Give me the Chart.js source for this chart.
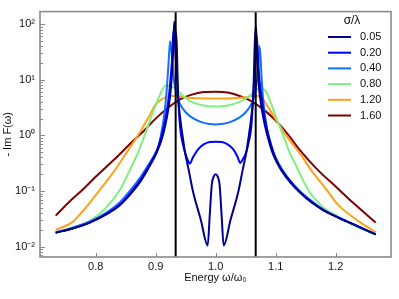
<!DOCTYPE html>
<html>
<head>
<meta charset="utf-8">
<script src="https://cdn.jsdelivr.net/npm/chart.js@4.4.1/dist/chart.umd.min.js"></script>
<style>
  html, body { margin: 0; padding: 0; background: #fff; }
  canvas { display: block; }
</style>
</head>
<body>
<canvas id="myChart" width="399" height="299"></canvas>
<script>
// values

// sigma / lambda of each curve
var sigmaLabels = ['0.05', '0.20', '0.40', '0.80', '1.20', '1.60'];

// bare resonance energies (the two black vertical lines)
var resonances = [0.9333, 1.0667];

var xTicks = [0.8, 0.9, 1.0, 1.1, 1.2];
var yMajorTicks = [0.01, 0.1, 1, 10, 100];

var energy005 = [0.7333, 0.76, 0.79, 0.82, 0.84, 0.857, 0.875, 0.89, 0.902, 0.912, 0.919, 0.924, 0.927, 0.929, 0.9308,
  0.9325, 0.935, 0.9372, 0.941, 0.945, 0.9488, 0.955, 0.962, 0.975, 0.9867, 0.99, 0.9935, 0.997, 1.0, 1.003, 1.0065, 1.01, 1.0133,
  1.025, 1.038, 1.045, 1.0512, 1.055, 1.059, 1.0628, 1.065, 1.0668, 1.068, 1.0695, 1.0715, 1.075, 1.08, 1.086, 1.093,
  1.10, 1.11, 1.125, 1.14, 1.16, 1.18, 1.20, 1.23, 1.2667];
var imF005 = [0.0178, 0.021, 0.027, 0.039, 0.055, 0.085, 0.15, 0.28, 0.5, 1.0, 2.2, 5, 12, 30, 110,
  80, 45, 6, 2.0, 0.95, 0.5, 0.24, 0.1, 0.031, 0.0105, 0.035, 0.13, 0.185, 0.2, 0.185, 0.13, 0.035, 0.0105,
  0.031, 0.1, 0.24, 0.5, 0.95, 2.0, 6, 40, 93, 60, 25, 9, 4, 1.9, 1.0, 0.55,
  0.36, 0.23, 0.14, 0.095, 0.062, 0.045, 0.035, 0.025, 0.0166];

var energy020 = [0.7333, 0.76, 0.79, 0.82, 0.84, 0.857, 0.875, 0.89, 0.901, 0.91, 0.917, 0.922, 0.925, 0.9275, 0.9295,
  0.931, 0.933, 0.935, 0.9372, 0.9405, 0.945, 0.95, 0.9545, 0.957, 0.962, 0.97, 0.98, 0.99, 1.0, 1.01, 1.02, 1.03, 1.036,
  1.041, 1.0445, 1.05, 1.055, 1.0595, 1.0628, 1.065, 1.067, 1.0685, 1.0705, 1.073, 1.077, 1.082, 1.088, 1.095,
  1.10, 1.11, 1.125, 1.14, 1.16, 1.18, 1.20, 1.23, 1.2667];
var imF020 = [0.0178, 0.021, 0.027, 0.04, 0.057, 0.09, 0.16, 0.3, 0.5, 1.0, 2.2, 5, 11, 25, 75,
  60, 30, 14, 5.6, 1.46, 0.72, 0.45, 0.34, 0.31, 0.4, 0.55, 0.69, 0.76, 0.77, 0.76, 0.69, 0.55, 0.42,
  0.32, 0.36, 0.47, 0.75, 1.46, 5.6, 14, 30, 60, 25, 10, 4.5, 2.0, 1.0, 0.55,
  0.38, 0.24, 0.145, 0.097, 0.063, 0.045, 0.035, 0.025, 0.0166];

var energy040 = [0.7333, 0.76, 0.79, 0.82, 0.84, 0.857, 0.875, 0.89, 0.898, 0.904, 0.91, 0.9155, 0.919, 0.922, 0.924,
  0.926, 0.929, 0.933, 0.937, 0.942, 0.95, 0.96, 0.975, 0.99, 1.0, 1.01, 1.025, 1.04, 1.05, 1.058, 1.063, 1.067,
  1.0705, 1.0725, 1.0745, 1.077, 1.08, 1.085, 1.092, 1.10, 1.11, 1.125, 1.14, 1.16, 1.18, 1.20, 1.23, 1.2667];
var imF040 = [0.018, 0.0215, 0.028, 0.042, 0.062, 0.1, 0.18, 0.32, 0.45, 0.6, 1.2, 3.0, 8, 25, 49,
  35, 14, 6.5, 4.5, 3.4, 2.6, 2.1, 1.75, 1.6, 1.57, 1.6, 1.75, 2.1, 2.6, 3.4, 4.5, 7,
  15, 41, 28, 9, 3.5, 1.4, 0.65, 0.4, 0.25, 0.15, 0.1, 0.066, 0.046, 0.035, 0.025, 0.0166];

var energy080 = [0.7333, 0.76, 0.79, 0.815, 0.8405, 0.857, 0.871, 0.885, 0.90, 0.91, 0.917, 0.925, 0.933, 0.945, 0.96,
  0.98, 1.0, 1.02, 1.04, 1.055, 1.0667, 1.074, 1.082, 1.09, 1.096, 1.105, 1.118, 1.1227, 1.13, 1.154, 1.18, 1.2017,
  1.23, 1.2667];
var imF080 = [0.0178, 0.022, 0.029, 0.047, 0.105, 0.24, 0.5, 1.27, 3.5, 6.3, 7.9, 7.6, 6.9, 5.2, 4.0,
  3.45, 3.3, 3.45, 4.0, 5.0, 6.3, 7.4, 6.5, 4.4, 2.9, 1.6, 0.7, 0.5, 0.35, 0.105, 0.05, 0.036,
  0.024, 0.0166];

var energy120 = [0.7333, 0.76, 0.78, 0.807, 0.83, 0.852, 0.874, 0.89, 0.90, 0.912, 0.924, 0.935, 0.95, 0.97, 1.0,
  1.03, 1.05, 1.065, 1.076, 1.09, 1.105, 1.12, 1.139, 1.16, 1.185, 1.2017, 1.23, 1.2667];
var imF120 = [0.020, 0.027, 0.045, 0.105, 0.22, 0.50, 1.15, 2.3, 3.6, 4.6, 5.1, 5.1, 4.8, 4.65, 4.6,
  4.65, 4.85, 5.2, 4.8, 2.9, 1.6, 0.9, 0.50, 0.23, 0.105, 0.06, 0.033, 0.018];

var energy160 = [0.7333, 0.76, 0.78, 0.80, 0.83, 0.86, 0.88, 0.90, 0.92, 0.94, 0.96, 0.98, 1.00,
  1.02, 1.04, 1.06, 1.08, 1.10, 1.12, 1.14, 1.17, 1.20, 1.23, 1.2667];
var imF160 = [0.036, 0.07, 0.11, 0.18, 0.36, 0.75, 1.2, 2.0, 3.1, 4.4, 5.4, 6.0, 6.1,
  5.9, 5.1, 4.1, 2.9, 1.85, 1.05, 0.55, 0.24, 0.12, 0.06, 0.027];

var energies = [energy005, energy020, energy040, energy080, energy120, energy160];
var imValues = [imF005, imF020, imF040, imF080, imF120, imF160];

// jet-like colours, same order as sigmaLabels
var lineColors = ['#00008f', '#0000ff', '#1070ff', '#7ff07f', '#ffa21a', '#7f0000'];

// axis limits
var xMin = 0.7072, xMax = 1.2922;
var yMin = 0.0065, yMax = 168;

var superDigits = { '-': '\u207B', '0': '\u2070', '1': '\u00B9', '2': '\u00B2', '3': '\u00B3' };
function powerLabel(e) {
  var s = String(e), out = '';
  for (var i = 0; i < s.length; i++) out += superDigits[s[i]];
  return '10' + out;
}

// build datasets, vertical lines first so they sit on top
var datasets = [];
for (var i = 0; i < resonances.length; i++) {
  datasets.push({
    label: 'resonance',
    data: [{ x: resonances[i], y: yMin }, { x: resonances[i], y: yMax }],
    borderColor: '#000',
    borderWidth: 2,
    pointRadius: 0
  });
}
for (var i = 0; i < sigmaLabels.length; i++) {
  var pts = [];
  for (var j = 0; j < energies[i].length; j++) {
    pts.push({ x: energies[i][j], y: imValues[i][j] });
  }
  datasets.push({
    label: sigmaLabels[i],
    data: pts,
    borderColor: lineColors[i],
    borderWidth: 2,
    pointRadius: 0,
    cubicInterpolationMode: 'monotone'
  });
}

var fontFamily = '"Liberation Sans", Arial, Helvetica, sans-serif';

// frame, inward tick marks and legend
var decorations = {
  id: 'decorations',
  afterDraw: function(chart) {
    var ctx = chart.ctx;
    var area = chart.chartArea;
    var xs = chart.scales.x, ys = chart.scales.y;
    ctx.save();

    ctx.strokeStyle = '#8a8a8a';
    ctx.lineWidth = 1;
    ys.ticks.forEach(function(t) {
      var py = Math.round(ys.getPixelForValue(t.value)) + 0.5;
      var len = t.major ? 5 : 3;
      ctx.beginPath();
      ctx.moveTo(area.left, py);
      ctx.lineTo(area.left + len, py);
      ctx.stroke();
    });
    xs.ticks.forEach(function(t) {
      var px = Math.round(xs.getPixelForValue(t.value)) + 0.5;
      ctx.beginPath();
      ctx.moveTo(px, area.bottom);
      ctx.lineTo(px, area.bottom - 4);
      ctx.stroke();
    });

    ctx.lineWidth = 1.6;
    ctx.strokeStyle = '#8a8a8a';
    ctx.strokeRect(area.left, area.top, area.right - area.left, area.bottom - area.top);

    // legend
    ctx.fillStyle = '#111';
    ctx.font = '12px ' + fontFamily;
    ctx.textAlign = 'center';
    ctx.textBaseline = 'middle';
    ctx.fillText('\u03C3/\u03BB', 352, 21);
    ctx.font = '11px ' + fontFamily;
    ctx.textAlign = 'left';
    for (var i = 0; i < sigmaLabels.length; i++) {
      var ly = 37 + i * 15.7;
      ctx.strokeStyle = lineColors[i];
      ctx.lineWidth = 2;
      ctx.beginPath();
      ctx.moveTo(328, ly);
      ctx.lineTo(351, ly);
      ctx.stroke();
      ctx.fillText(sigmaLabels[i], 360, ly);
    }
    ctx.restore();
  }
};

var ctx = document.getElementById('myChart');
var myChart = new Chart(ctx, {
  type: 'line',
  data: { datasets: datasets },
  plugins: [decorations],
  options: {
    responsive: false,
    animation: false,
    devicePixelRatio: 1,
    layout: { padding: { top: 6, right: 8, left: 0, bottom: 0 } },
    plugins: { legend: { display: false }, tooltip: { enabled: false } },
    scales: {
      x: {
        type: 'linear',
        min: xMin,
        max: xMax,
        afterBuildTicks: function(scale) {
          scale.ticks = xTicks.map(function(v) { return { value: v }; });
        },
        afterFit: function(scale) { scale.height = 42; },
        grid: { display: false, drawTicks: false },
        border: { display: false },
        ticks: {
          autoSkip: false,
          maxRotation: 0,
          padding: 3,
          color: '#111',
          font: { family: fontFamily, size: 11 },
          callback: function(value) { return value.toFixed(1); }
        },
        title: {
          display: true,
          text: 'Energy \u03C9/\u03C9\u2080',
          color: '#111',
          font: { family: fontFamily, size: 11 },
          padding: { top: 0, bottom: 14 }
        }
      },
      y: {
        type: 'logarithmic',
        min: yMin,
        max: yMax,
        afterBuildTicks: function(scale) {
          var t = [];
          for (var e = -3; e <= 2; e++) {
            for (var m = 1; m <= 9; m++) {
              var v = m * Math.pow(10, e);
              if (v >= yMin && v <= yMax) t.push({ value: v, major: m === 1 });
            }
          }
          scale.ticks = t;
        },
        afterFit: function(scale) { scale.width = 40; },
        grid: { display: false, drawTicks: false },
        border: { display: false },
        ticks: {
          autoSkip: false,
          padding: 5,
          color: '#111',
          font: { family: fontFamily, size: 11 },
          callback: function(value) {
            var e = Math.log10(value);
            var r = Math.round(e);
            if (Math.abs(e - r) < 1e-6 && yMajorTicks.indexOf(Math.pow(10, r)) >= 0) return powerLabel(r);
            return '';
          }
        },
        title: {
          display: true,
          text: '- Im F(\u03C9)',
          color: '#111',
          font: { family: fontFamily, size: 11 },
          padding: { top: 1, bottom: 0 }
        }
      }
    }
  }
});
</script>
</body>
</html>
